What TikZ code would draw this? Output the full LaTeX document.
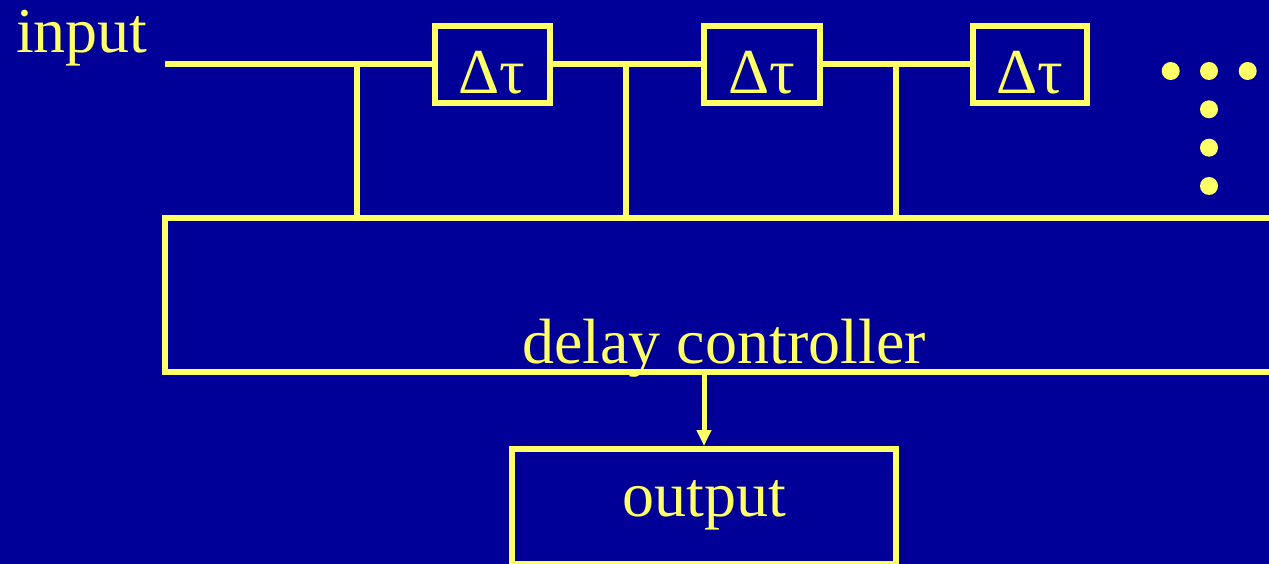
\documentclass[tikz,border=0pt]{standalone}
\usepackage{fontspec}
\setmainfont{Liberation Serif}
\usetikzlibrary{arrows.meta}
\definecolor{bgblue}{HTML}{000099}
\definecolor{ylw}{HTML}{FFFF66}
\tikzset{
  wire/.style={draw=ylw, line width=6pt},
  delaybox/.style={draw=ylw, line width=6pt, minimum height=77pt, inner sep=0pt, text=ylw,
    text height=59pt, text depth=0pt, font=\fontsize{64}{72}\selectfont},
  bigbox/.style={draw=ylw, line width=6pt, inner sep=0pt},
  lbl/.style={text=ylw, inner sep=0pt, font=\fontsize{64}{72}\selectfont},
  dot/.style={circle, fill=ylw, inner sep=0pt, minimum size=18pt},
  arr/.style={draw=ylw, line width=5pt, -{Triangle[length=16pt,width=14pt]}}
}
\begin{document}
\begin{tikzpicture}[x=1pt,y=-1pt]
\fill[bgblue] (0,0) rectangle (1269,564);
\useasboundingbox (0,0) rectangle (1269,564);
\clip (0,0) rectangle (1269,564);
% delay elements
\node[delaybox, minimum width=115.5pt] (d1) at (492.25,64.5) {Δτ};
\node[delaybox, minimum width=115.5pt] (d2) at (761.75,64.5) {Δτ};
\node[delaybox, minimum width=114pt] (d3) at (1030,64.5) {Δτ};
% delay controller box
\node[bigbox, minimum width=1125pt, minimum height=154pt] (dc) at (727.5,295) {};
\node[lbl, anchor=base] (dct) at (724,363) {delay controller};
% output box
\node[bigbox, minimum width=384pt, minimum height=115pt] (out) at (704,506.5) {};
\node[lbl, anchor=base] (outt) at (704,516) {output};
% input label
\node[lbl, anchor=base west] (inl) at (16,53) {input};
% input line and chain
\coordinate (in) at (165,64.5);
\draw[wire] (in) -- (d1.west);
\draw[wire] (d1.east) -- (d2.west);
\draw[wire] (d2.east) -- (d3.west);
% taps
\coordinate (t1) at (357,64.5);
\coordinate (t2) at (626,64.5);
\coordinate (t3) at (896,64.5);
\draw[wire] (t1) -- (t1 |- dc.north);
\draw[wire] (t2) -- (t2 |- dc.north);
\draw[wire] (t3) -- (t3 |- dc.north);
% arrow to output
\coordinate (a0) at (704,372);
\draw[arr] (a0) -- (a0 |- out.north);
% continuation dots
\node[dot] (p1) at (1170.7,71) {};
\node[dot] (p2) at (1209,71) {};
\node[dot] (p3) at (1247.7,71) {};
\node[dot] (p4) at (1209,109.3) {};
\node[dot] (p5) at (1209,147.7) {};
\node[dot] (p6) at (1209,186) {};
\end{tikzpicture}
\end{document}
